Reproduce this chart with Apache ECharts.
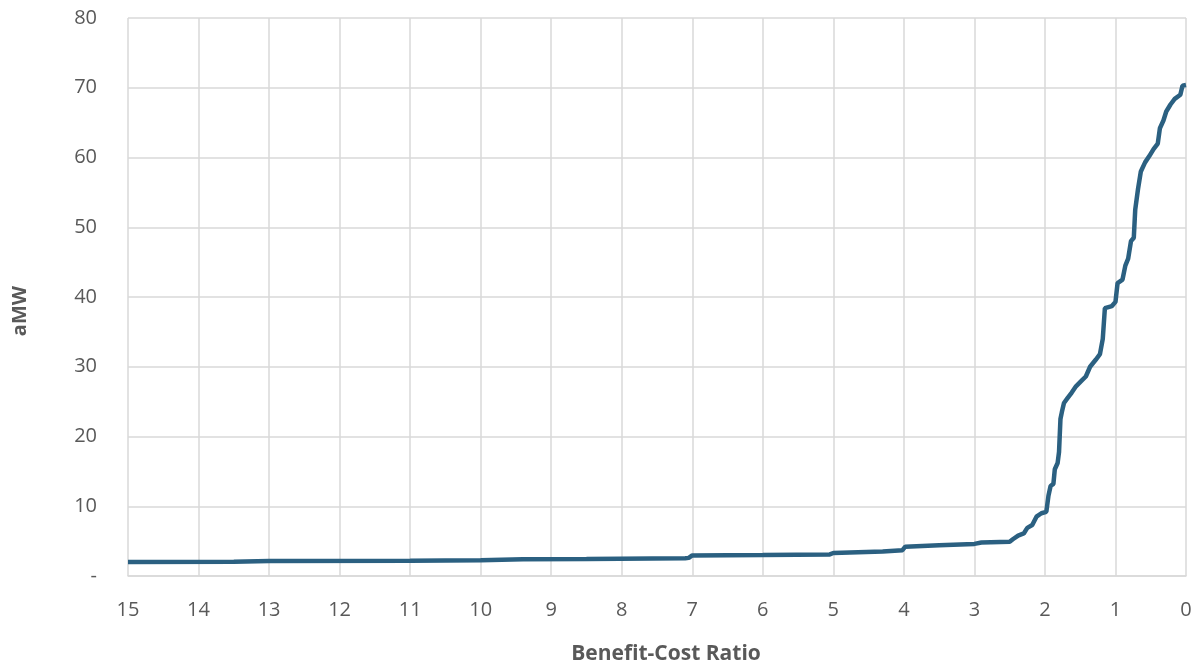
<!DOCTYPE html>
<html>
<head>
<meta charset="utf-8">
<script src="https://cdn.jsdelivr.net/npm/echarts@6/dist/echarts.min.js"></script>
<style>
  html, body { margin: 0; padding: 0; background: #ffffff; }
  #chart { width: 1195px; height: 662px; }
</style>
</head>
<body>
<div id="chart"></div>
<script>
// Benefit-cost ratio (descending) and cumulative average megawatts
const bcr = [15, 13.5, 13, 11, 10, 9.4, 8.5, 7.1, 7.05, 7.0, 6.0, 5.05, 5.0, 4.3, 4.02, 3.98, 3.5, 3.0, 2.9, 2.5,
  2.45, 2.38, 2.3, 2.25, 2.18, 2.12, 2.05, 1.98, 1.95, 1.92, 1.88, 1.86, 1.82, 1.8, 1.78, 1.76, 1.73,
  1.68, 1.62, 1.56, 1.48, 1.42, 1.36, 1.28, 1.22, 1.18, 1.15, 1.05, 1.0, 0.97, 0.9, 0.86, 0.82, 0.78,
  0.74, 0.72, 0.68, 0.64, 0.58, 0.52, 0.46, 0.4, 0.37, 0.32, 0.28, 0.22, 0.16, 0.08, 0.05, 0];
const amw = [2.0, 2.05, 2.15, 2.2, 2.25, 2.4, 2.45, 2.55, 2.6, 2.95, 3.0, 3.1, 3.3, 3.5, 3.7, 4.2, 4.4, 4.6, 4.8, 4.9,
  5.3, 5.8, 6.1, 6.9, 7.3, 8.5, 9.0, 9.2, 11.5, 12.9, 13.2, 15.3, 16.2, 17.8, 22.5, 23.5, 24.8,
  25.5, 26.3, 27.2, 28.0, 28.6, 30.0, 31.0, 31.8, 34.0, 38.4, 38.7, 39.3, 42.0, 42.5, 44.5, 45.5, 48.0,
  48.5, 52.5, 55.5, 58.0, 59.3, 60.2, 61.2, 62.0, 64.2, 65.3, 66.6, 67.6, 68.4, 69.0, 70.3, 70.4];

const xTitle = 'Benefit-Cost Ratio';
const yTitle = 'aMW';

const points = bcr.map((b, i) => [b, amw[i]]);

const gridColor = '#d9d9d9';
const textColor = '#595959';
const font = 'Open Sans, Noto Sans, sans-serif';

const chart = echarts.init(document.getElementById('chart'), null, { renderer: 'canvas' });
chart.setOption({
  animation: false,
  backgroundColor: '#ffffff',
  grid: { left: 128, right: 9, top: 18, bottom: 86, containLabel: false, outerBoundsMode: 'none' },
  xAxis: {
    type: 'value', min: 0, max: 15, interval: 1, inverse: true,
    name: xTitle, nameLocation: 'middle', nameGap: 68,
    nameTextStyle: { color: textColor, fontSize: 21, fontWeight: 'bold', fontFamily: font, padding: [0, 0, 0, 18] },
    axisLine: { show: true, lineStyle: { color: gridColor, width: 1.5 } },
    axisTick: { show: false },
    axisLabel: { color: textColor, fontSize: 20, fontFamily: font, margin: 24 },
    splitLine: { show: true, lineStyle: { color: gridColor, width: 1.5 } }
  },
  yAxis: {
    type: 'value', min: 0, max: 80, interval: 10,
    name: yTitle, nameLocation: 'middle', nameGap: 98, nameRotate: 90,
    nameTextStyle: { color: textColor, fontSize: 20, fontWeight: 'bold', fontFamily: font, padding: [0, 28, 0, 0] },
    axisLine: { show: false },
    axisTick: { show: false },
    axisLabel: {
      color: textColor, fontSize: 20, fontFamily: font, margin: 31,
      formatter: v => (v === 0 ? '-' : String(v))
    },
    splitLine: { show: true, lineStyle: { color: gridColor, width: 1.5 } }
  },
  series: [{
    type: 'line',
    data: points,
    showSymbol: false,
    lineStyle: { color: '#2b6081', width: 4.5 },
    z: 5
  }]
});
</script>
</body>
</html>
